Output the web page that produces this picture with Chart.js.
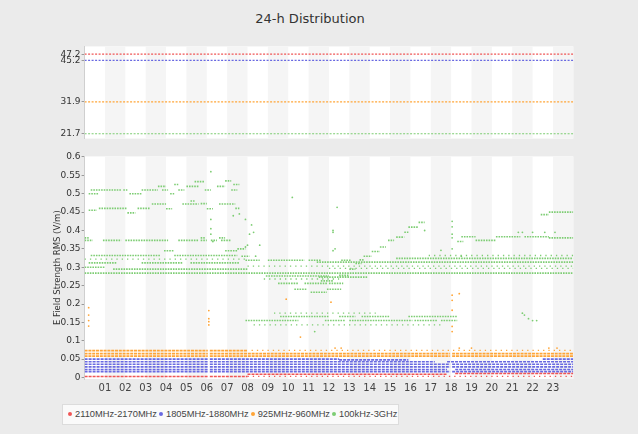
<!DOCTYPE html>
<html>
<head>
<meta charset="utf-8">
<script src="https://cdn.jsdelivr.net/npm/chart.js@4.4.1/dist/chart.umd.min.js"></script>
<style>
  body { margin: 0; width: 638px; height: 434px; overflow: hidden; position: relative; background: #ebebeb; font-family: 'DejaVu Sans', sans-serif; }
  #title { position: absolute; left: 0; top: 11px; width: 620px; text-align: center; font-size: 13px; color: #333; }
  #topChart { position: absolute; left: 0; top: 40px; }
  #mainChart { position: absolute; left: 0; top: 150px; }
  #legend { position: absolute; left: 62px; top: 404px; width: 337px; height: 21px; box-sizing: border-box; background: #fafafa; border: 1px solid #dcdcdc; font-family: 'Liberation Sans', sans-serif; font-size: 9.3px; color: #444; line-height: 19px; white-space: nowrap; padding-left: 3px; }
  #legend i { display: inline-block; width: 4px; height: 4px; border-radius: 2px; margin: 0 3px 1px 2px; vertical-align: middle; }
</style>
</head>
<body>
<div id="title">24-h Distribution</div>
<canvas id="topChart" width="638" height="105"></canvas>
<canvas id="mainChart" width="638" height="250"></canvas>
<div id="legend"></div>
<script>
// series: 2110MHz-2170MHz, 1805MHz-1880MHz, 925MHz-960MHz, 100kHz-3GHz
const seriesNames = ['2110MHz-2170MHz', '1805MHz-1880MHz', '925MHz-960MHz', '100kHz-3GHz'];
const seriesColors = ['rgb(240,85,85)', 'rgb(105,105,225)', 'rgb(255,165,55)', 'rgb(125,205,115)'];

// top panel: reference levels (V/m)
const limits = [47.2, 45.2, 31.9, 21.7];
const topTicks = [21.7, 31.9, 45.2, 47.2];

const hourTicks = [1, 2, 3, 4, 5, 6, 7, 8, 9, 10, 11, 12, 13, 14, 15, 16, 17, 18, 19, 20, 21, 22, 23];
const yTicks = [0, 0.05, 0.1, 0.15, 0.2, 0.25, 0.3, 0.35, 0.4, 0.45, 0.5, 0.55, 0.6];

// runs of measurements: [fromHour, toHour, value]
const redRuns = [[0, 6.05, 0.003], [6.15, 8, 0.003], [8, 17.8, 0.009], [18.2, 24, 0.011]];
const redDots = [[8, 24, 0.003]];

const blueRuns = [
  [0, 6.05, 0.05], [6.15, 12.5, 0.05], [12.5, 15.9, 0.048], [22.5, 24, 0.05],
  [0, 6.05, 0.043], [6.15, 17.2, 0.043], [17.8, 24, 0.043],
  [0, 6.05, 0.036], [6.15, 17.95, 0.036], [18.05, 24, 0.036],
  [0, 6.05, 0.029], [6.15, 17.95, 0.029], [18.05, 24, 0.029],
  [0, 6.05, 0.022], [6.15, 17.8, 0.022], [18.2, 24, 0.022],
  [0, 6.05, 0.016], [6.15, 17.95, 0.016], [18.05, 24, 0.016]
];

const orangeRuns = [
  [0, 6.05, 0.073], [6.15, 8, 0.073],
  [0, 6.05, 0.065], [6.15, 17.95, 0.065], [18.05, 24, 0.065],
  [0, 6.05, 0.058], [6.15, 17.95, 0.058], [18.05, 24, 0.058]
];
const orangeDots = [[8.2, 24, 0.074]];
const orangePoints = [
  [0.2, 0.19], [0.2, 0.17], [0.2, 0.155], [0.2, 0.14],
  [6.1, 0.182], [6.1, 0.16], [6.1, 0.152], [6.1, 0.143],
  [9.9, 0.213], [12.1, 0.205], [10.6, 0.11],
  [18.05, 0.224], [18.05, 0.21], [18.05, 0.183], [18.05, 0.139], [18.05, 0.125], [18.4, 0.228],
  [12.3, 0.08], [12.6, 0.08], [18.4, 0.08], [19.0, 0.08], [22.8, 0.08], [23.2, 0.08]
];

const greenRuns = [
  // ~0.5
  [0.2, 0.7, 0.50], [0.3, 1.8, 0.51], [1.9, 2.1, 0.51], [2.2, 2.8, 0.50], [2.8, 3.6, 0.51], [3.6, 4.0, 0.52],
  [3.8, 4.1, 0.51], [4.2, 4.4, 0.50], [4.4, 4.6, 0.525], [4.6, 4.9, 0.51], [5.0, 5.6, 0.52], [5.4, 5.9, 0.533],
  [5.9, 6.2, 0.51], [6.5, 6.9, 0.52], [6.9, 7.2, 0.535], [7.2, 7.5, 0.51], [7.3, 7.6, 0.525],
  // ~0.46
  [0.2, 0.6, 0.455], [0.7, 2.1, 0.46], [2.1, 2.5, 0.448], [2.6, 3.2, 0.46], [3.3, 4.0, 0.472], [4.0, 4.3, 0.459],
  [4.8, 5.6, 0.472], [5.2, 5.4, 0.48], [5.7, 6.0, 0.473], [6.0, 6.3, 0.459], [6.6, 7.4, 0.472], [7.4, 7.6, 0.46],
  // ~0.37
  [0, 0.4, 0.373], [0.9, 1.8, 0.373], [2.0, 4.1, 0.373], [4.6, 5.6, 0.373], [5.7, 6.0, 0.373], [6.2, 6.5, 0.373],
  [6.7, 7.2, 0.373], [0, 0.2, 0.38], [5.7, 5.9, 0.38], [6.6, 6.9, 0.38],
  // ~0.34
  [3.9, 4.4, 0.345], [6.9, 7.5, 0.345], [7.5, 7.9, 0.35], [0.3, 3.7, 0.332], [4.4, 7.5, 0.332], [7.7, 8.1, 0.33],
  // ~0.3
  [0.2, 1.6, 0.312], [2.8, 4.8, 0.312], [5.2, 7.6, 0.312], [0, 1, 0.30], [1.4, 8, 0.295], [0, 24, 0.284],
  [7.9, 8.6, 0.319], [9.0, 10.8, 0.319], [11.0, 11.6, 0.319], [12.6, 13.1, 0.319], [11.4, 24, 0.314], [15.3, 24, 0.324],
  // dip 8-13
  [8.9, 12, 0.276], [11.5, 13.9, 0.273], [9.5, 10.5, 0.256], [10.8, 11.9, 0.256], [12.0, 12.7, 0.256],
  [11.6, 12.2, 0.263], [10.3, 10.9, 0.24], [11.9, 12.6, 0.24], [11.1, 11.9, 0.232],
  // rise 12-17
  [12.5, 13.0, 0.278], [13.0, 13.3, 0.295], [13.3, 13.6, 0.31], [13.5, 13.7, 0.32], [13.7, 14.1, 0.33],
  [14.1, 14.5, 0.343], [14.5, 14.8, 0.355], [14.9, 15.2, 0.373], [15.3, 15.7, 0.382], [15.7, 15.9, 0.395],
  [15.9, 16.4, 0.409], [16.4, 16.7, 0.422],
  // ~0.16
  [9.6, 12, 0.166], [12.5, 13.3, 0.166], [13.6, 15, 0.166], [15.9, 18.3, 0.166],
  [7.9, 10.5, 0.155], [11.8, 12.8, 0.155], [13, 16.1, 0.155], [16.2, 17.3, 0.155], [17.5, 18.3, 0.155],
  // 18-24
  [18.5, 19.2, 0.383], [19.2, 20.2, 0.373], [20.2, 21.4, 0.383], [21.6, 22.8, 0.383], [22.8, 24, 0.38],
  [22.4, 22.8, 0.443], [22.8, 24, 0.45], [18.3, 18.6, 0.37]
];
const greenDots = [
  [0, 8, 0.322], [8, 24, 0.303], [12, 24, 0.297], [16.9, 24, 0.332], [8.3, 17.5, 0.143], [9.3, 14.3, 0.175], [8.8, 12.5, 0.268]
];
const greenPoints = [
  [6.2, 0.56], [6.2, 0.43], [6.2, 0.405], [6.2, 0.39], [6.3, 0.37], [7.3, 0.44], [7.6, 0.445], [7.9, 0.43],
  [8.2, 0.415], [8.1, 0.39], [8.3, 0.395], [8.0, 0.36], [7.9, 0.355], [8.6, 0.36], [8.4, 0.33],
  [12.2, 0.4], [12.2, 0.395], [12.4, 0.463], [12.3, 0.35], [12.2, 0.345], [10.2, 0.49],
  [18.05, 0.425], [18.05, 0.41], [18.05, 0.39], [18.05, 0.38], [18.05, 0.35], [18.5, 0.33], [17.5, 0.346], [16.7, 0.40],
  [21.3, 0.395], [21.5, 0.395], [22.0, 0.395], [22.6, 0.395], [23.1, 0.395],
  [21.5, 0.175], [21.6, 0.17], [21.8, 0.16], [22.0, 0.155], [22.2, 0.155], [11.3, 0.125]
];

function toLine(runs) {
  const out = [];
  runs.forEach(r => { out.push({ x: r[0], y: r[2] }, { x: r[1], y: r[2] }, { x: r[1], y: null }); });
  return out;
}
function toPts(pts) { return pts.map(p => ({ x: p[0], y: p[1] })); }

const stripes = {
  id: 'stripes',
  beforeDraw(chart) {
    const { ctx, chartArea: a, scales: { x } } = chart;
    ctx.save();
    ctx.fillStyle = '#ffffff';
    ctx.fillRect(a.left, a.top, a.width, a.height);
    ctx.fillStyle = '#f5f5f5';
    for (let h = 1; h < 24; h += 2) {
      const x0 = x.getPixelForValue(h), x1 = x.getPixelForValue(h + 1);
      ctx.fillRect(x0, a.top, x1 - x0, a.height);
    }
    ctx.restore();
  }
};

const runStyle = (data, color, w, dash) => ({ data, showLine: true, pointRadius: 0, borderColor: color, borderWidth: w, borderDash: dash, spanGaps: false });
const dotStyle = (data, color) => ({ data, showLine: true, pointRadius: 0, borderColor: color, borderWidth: 1.3, borderDash: [1.3, 4], spanGaps: false });
const ptStyle = (data, color) => ({ data, showLine: false, pointRadius: 0.9, pointBorderWidth: 0, backgroundColor: color });

const yAxisCommon = {
  position: 'left',
  grid: { display: true, drawOnChartArea: false, drawTicks: true, tickLength: 3, color: '#999' },
  border: { display: true, color: '#cfcfcf' },
  ticks: { padding: 1, color: '#333', font: { size: 9, family: 'DejaVu Sans' } },
  afterFit(s) { s.width = 31.6; }
};

Chart.defaults.animation = false;

new Chart(document.getElementById('topChart'), {
  type: 'scatter',
  data: {
    datasets: limits.map((v, i) => ({
      data: [{ x: 0, y: v }, { x: 24, y: v }], showLine: true, pointRadius: 0,
      borderColor: seriesColors[i], borderWidth: 1.2, borderDash: [2, 1.5]
    }))
  },
  options: {
    responsive: false, devicePixelRatio: 1,
    layout: { padding: { left: 53, right: 64.7, top: 5, bottom: 5 } },
    plugins: { legend: { display: false }, tooltip: { enabled: false } },
    scales: {
      x: { type: 'linear', min: 0, max: 24, display: false },
      y: Object.assign({}, yAxisCommon, {
        min: 20.15, max: 49.7,
        afterBuildTicks(s) { s.ticks = topTicks.map(v => ({ value: v })); },
        ticks: Object.assign({}, yAxisCommon.ticks, { callback: v => v.toFixed(1) })
      })
    }
  },
  plugins: [stripes]
});

const mainSets = [
  runStyle(toLine(redRuns), seriesColors[0], 1.6, [3, 1]), dotStyle(toLine(redDots), seriesColors[0]),
  runStyle(toLine(blueRuns), seriesColors[1], 1.6, [3, 1]),
  runStyle(toLine(orangeRuns), seriesColors[2], 1.8, [3, 0.8]), dotStyle(toLine(orangeDots), seriesColors[2]), ptStyle(toPts(orangePoints), seriesColors[2]),
  runStyle(toLine(greenRuns), seriesColors[3], 1.6, [1.6, 1]), dotStyle(toLine(greenDots), seriesColors[3]), ptStyle(toPts(greenPoints), seriesColors[3])
];

new Chart(document.getElementById('mainChart'), {
  type: 'scatter',
  data: { datasets: mainSets },
  options: {
    responsive: false, devicePixelRatio: 1,
    layout: { padding: { left: 53, right: 64.7, top: 5.5, bottom: 0 } },
    plugins: { legend: { display: false }, tooltip: { enabled: false } },
    scales: {
      x: {
        type: 'linear', min: 0, max: 24,
        grid: { display: false, drawTicks: false },
        border: { display: false },
        afterBuildTicks(s) { s.ticks = hourTicks.map(v => ({ value: v })); },
        afterFit(s) { s.height = 21; },
        ticks: { padding: 3, color: '#444', font: { size: 10, family: 'DejaVu Sans' }, maxRotation: 0, autoSkip: false,
          callback: v => String(v).padStart(2, '0') }
      },
      y: Object.assign({}, yAxisCommon, {
        min: -0.004, max: 0.6015,
        afterBuildTicks(s) { s.ticks = yTicks.map(v => ({ value: v })); },
        title: { display: true, text: 'E Field Strength RMS (V/m)', color: '#333', padding: 0, font: { size: 8.5, family: 'DejaVu Sans' } },
        ticks: Object.assign({}, yAxisCommon.ticks, { callback: v => String(+v.toFixed(2)) })
      })
    }
  },
  plugins: [stripes]
});

document.getElementById('legend').innerHTML = seriesNames
  .map((n, i) => '<i style="background:' + seriesColors[i] + '"></i>' + n).join('');
</script>
</body>
</html>
